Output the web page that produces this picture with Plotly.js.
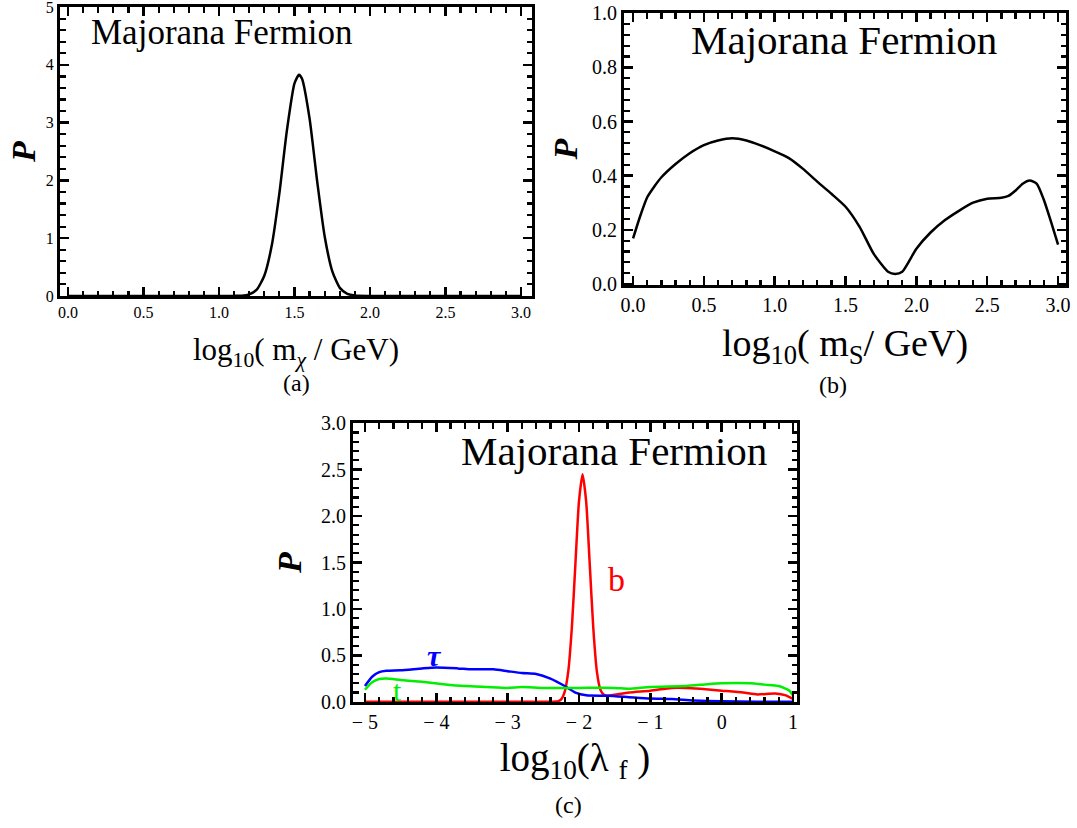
<!DOCTYPE html>
<html><head><meta charset="utf-8">
<script src="https://cdn.plot.ly/plotly-3.0.1.min.js"></script>
<style>html,body{margin:0;padding:0;background:#fff}#plot{width:1077px;height:828px}</style>
</head><body><div id="plot"></div>
<script>
// Panel (a): posterior of log10(m_chi/GeV)
const aX = [0, 1.0, 1.1, 1.15, 1.2, 1.25, 1.3, 1.35, 1.4, 1.45, 1.5, 1.53, 1.55, 1.6, 1.65, 1.7, 1.75, 1.8, 1.85, 1.9, 2.0, 3.0];
const aY = [0, 0.0, 0.001, 0.005, 0.028, 0.11, 0.35, 0.88, 1.78, 2.87, 3.68, 3.83, 3.76, 3.07, 1.99, 1.03, 0.43, 0.14, 0.037, 0.008, 0.0, 0];
// Panel (b): posterior of log10(m_S/GeV)
const bX = [0,0.05,0.1,0.15,0.2,0.3,0.4,0.5,0.6,0.7,0.8,0.9,1.0,1.1,1.2,1.3,1.4,1.5,1.6,1.7,1.8,1.85,1.9,2.0,2.1,2.2,2.3,2.4,2.5,2.6,2.65,2.7,2.75,2.8,2.85,2.9,2.95,3.0];
const bY = [0.168,0.25,0.32,0.36,0.394,0.443,0.483,0.513,0.53,0.538,0.53,0.512,0.49,0.465,0.425,0.378,0.333,0.285,0.21,0.11,0.045,0.037,0.045,0.13,0.19,0.235,0.27,0.3,0.315,0.318,0.325,0.345,0.37,0.382,0.37,0.31,0.23,0.145];
// Panel (c): posteriors of log10(lambda_f) for b, tau, t channels
const cbX = [-5,-3,-2.45,-2.4,-2.35,-2.3,-2.25,-2.2,-2.15,-2.1,-2.05,-2.0,-1.95,-1.9,-1.85,-1.8,-1.75,-1.7,-1.65,-1.6,-1.5,-1.3,-1.0,-0.7,-0.5,-0.3,0,0.3,0.5,0.75,0.9,1.0];
const cbY = [0,0,0,0,0.002,0.005,0.027,0.11,0.33,0.80,1.49,2.16,2.45,2.16,1.49,0.80,0.33,0.13,0.075,0.065,0.075,0.1,0.12,0.15,0.15,0.14,0.12,0.1,0.08,0.09,0.07,0.03];
const ctauX = [-5,-4.9,-4.8,-4.7,-4.5,-4.2,-4.0,-3.7,-3.5,-3.2,-3.0,-2.8,-2.6,-2.4,-2.2,-2.05,-1.9,-1.6,-1.3,-1.0,-0.7,-0.4,0,0.5,1.0];
const ctauY = [0.17,0.27,0.32,0.335,0.34,0.36,0.37,0.36,0.35,0.35,0.33,0.31,0.3,0.25,0.17,0.1,0.07,0.065,0.05,0.035,0.03,0.015,0.005,0.002,0];
const ctX = [-5,-4.9,-4.8,-4.7,-4.5,-4.2,-3.9,-3.6,-3.3,-3.0,-2.8,-2.5,-2.0,-1.5,-1.3,-1.0,-0.5,-0.2,0,0.4,0.6,0.8,0.95,1.0];
const ctY = [0.13,0.21,0.245,0.25,0.235,0.215,0.19,0.17,0.16,0.15,0.16,0.15,0.15,0.15,0.14,0.16,0.17,0.19,0.2,0.2,0.185,0.17,0.12,0.07];

const aTickVals = [0,0.5,1.0,1.5,2.0,2.5,3.0];
const aTickText = ["0.0","0.5","1.0","1.5","2.0","2.5","3.0"];
const aYTickVals = [0,1,2,3,4,5];
const aYTickText = ["0","1","2","3","4","5"];
const bYTickVals = [0,0.2,0.4,0.6,0.8,1.0];
const bYTickText = ["0.0","0.2","0.4","0.6","0.8","1.0"];
const cTickVals = [-5,-4,-3,-2,-1,0,1];
const cTickText = ["\u2212 5","\u2212 4","\u2212 3","\u2212 2","\u2212 1","0","1"];
const cYTickVals = [0,0.5,1.0,1.5,2.0,2.5,3.0];
const cYTickText = ["0.0","0.5","1.0","1.5","2.0","2.5","3.0"];

const serif = "Liberation Serif";
const W = 1077, H = 828;
function dx(l, r) { return [l / W, r / W]; }
function dy(t, b) { return [1 - b / H, 1 - t / H]; }

function axis(dom, range, tv, tt, minorD, fs, anchor, title, tsize, standoff) {
  return {
    domain: dom, range: range, anchor: anchor,
    tickmode: 'array', tickvals: tv, ticktext: tt,
    ticks: 'inside', ticklen: 9, tickwidth: 2.5, tickcolor: '#000',
    minor: {dtick: minorD, ticks: 'inside', ticklen: 5.5, tickwidth: 2.2, tickcolor: '#000', showgrid: false},
    showline: true, linewidth: 3, linecolor: '#000', mirror: 'ticks',
    showgrid: false, zeroline: false, ticklabeloverflow: 'allow',
    tickfont: {family: serif, size: fs, color: '#000'},
    title: {text: title, font: {family: serif, size: tsize, color: '#000'}, standoff: standoff}
  };
}

const line = (c) => ({color: c, width: 2.5, shape: 'spline', smoothing: 0.6});

const traces = [
  {x: aX, y: aY, type: 'scatter', mode: 'lines', line: line('#000'), xaxis: 'x', yaxis: 'y'},
  {x: bX, y: bY, type: 'scatter', mode: 'lines', line: line('#000'), xaxis: 'x2', yaxis: 'y2'},
  {x: cbX, y: cbY, type: 'scatter', mode: 'lines', line: line('#ff0000'), xaxis: 'x3', yaxis: 'y3'},
  {x: ctauX, y: ctauY, type: 'scatter', mode: 'lines', line: line('#0000ff'), xaxis: 'x3', yaxis: 'y3'},
  {x: ctX, y: ctY, type: 'scatter', mode: 'lines', line: line('#00ee00'), xaxis: 'x3', yaxis: 'y3'}
];

const Ptitle = '<b><i>P</i></b>';
const ann = (o) => Object.assign({xref: 'paper', yref: 'paper', showarrow: false, xanchor: 'center', yanchor: 'middle'}, o);

const layout = {
  width: W, height: H, showlegend: false,
  font: {family: serif, size: 18, color: '#000'},
  margin: {l: 0, r: 0, t: 0, b: 0},
  paper_bgcolor: '#fff', plot_bgcolor: '#fff',
  xaxis: axis(dx(60, 532), [-0.053, 3.073], aTickVals, aTickText, 0.1, 16, 'y',
              'log<sub>10</sub>( m<sub><i>χ</i></sub> / GeV)', 31, 19),
  yaxis: axis(dy(7, 296), [-0.001, 5.002], aYTickVals, aYTickText, 0.2, 16, 'x', Ptitle, 34, 0),
  xaxis2: axis(dx(624, 1066), [-0.064, 3.056], aTickVals, aTickText, 0.1, 20, 'y2',
              'log<sub>10</sub>( m<sub>S</sub>/ GeV)', 38, 15),
  yaxis2: axis(dy(13, 285), [-0.004, 1.001], bYTickVals, bYTickText, 0.04, 20, 'x2', Ptitle, 34, 5),
  xaxis3: axis(dx(353, 797), [-5.168, 1.056], cTickVals, cTickText, 0.2, 20, 'y3',
              'log<sub>10</sub>(λ <sub>f</sub> )', 39, 12),
  yaxis3: axis(dy(423, 702), [-0.002, 3.002], cYTickVals, cYTickText, 0.1, 20, 'x3', Ptitle, 34, 10),
  annotations: [
    ann({text: 'Majorana Fermion', x: 221 / W, y: 1 - 33 / H, font: {family: serif, size: 35, color: '#000'}}),
    ann({text: 'Majorana Fermion', x: 844 / W, y: 1 - 40 / H, font: {family: serif, size: 41, color: '#000'}}),
    ann({text: 'Majorana Fermion', x: 614 / W, y: 1 - 451 / H, font: {family: serif, size: 41, color: '#000'}}),
    ann({text: '<b><i>τ</i></b>', xref: 'x3', yref: 'y3', x: -4.02, y: 0.5, font: {family: serif, size: 30, color: '#0000ff'}}),
    ann({text: 'b', xref: 'x3', yref: 'y3', x: -1.47, y: 1.32, font: {family: serif, size: 34, color: '#ff0000'}}),
    ann({text: 't', xref: 'x3', yref: 'y3', x: -4.55, y: 0.12, font: {family: serif, size: 30, color: '#00ee00'}}),
    ann({text: '(a)', x: 296 / W, y: 1 - 383 / H, font: {family: serif, size: 24, color: '#000'}}),
    ann({text: '(b)', x: 833 / W, y: 1 - 385 / H, font: {family: serif, size: 24, color: '#000'}}),
    ann({text: '(c)', x: 568 / W, y: 1 - 805 / H, font: {family: serif, size: 24, color: '#000'}})
  ]
};

Plotly.newPlot('plot', traces, layout, {staticPlot: true, displayModeBar: false});
</script>
</body></html>
